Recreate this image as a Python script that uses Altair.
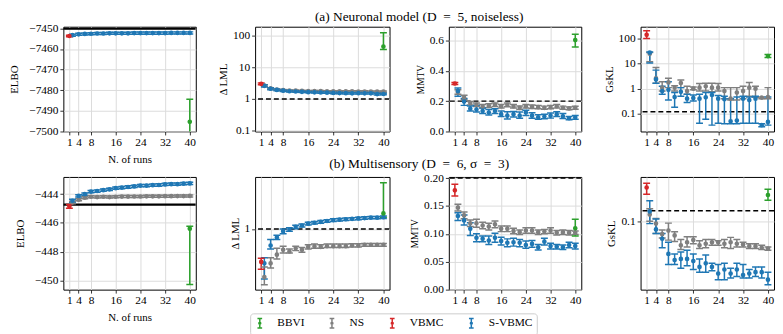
import altair as alt
import pandas as pd

# ---------------- data ----------------
RUNS = [2, 4, 6, 8, 10, 12, 14, 16, 18, 20, 22, 24, 26, 28, 30, 32, 34, 36, 38, 40]
X_VBMC = 1
X_BBVI = 40
X_TICKS = [1, 4, 8, 16, 24, 32, 40]
X_DOMAIN = [-0.95, 41.95]

METHODS = ["BBVI", "NS", "VBMC", "S-VBMC"]
COLORS = ["#2ca02c", "#7f7f7f", "#d62728", "#1f77b4"]

# (a) Neuronal model -- ELBO
A_ELBO_TRUE = -7450.2
A_ELBO_VBMC = [-7453.7, -7454.1, -7453.3]          # median, low, high
A_ELBO_BBVI = [-7495.3, -7512.0, -7484.4]
A_ELBO_SV = [-7453.3, -7452.9, -7452.7, -7452.6, -7452.5, -7452.5, -7452.4, -7452.4, -7452.4, -7452.4,
             -7452.3, -7452.3, -7452.3, -7452.3, -7452.3, -7452.3, -7452.2, -7452.2, -7452.2, -7452.2]
A_ELBO_SV_LO = [-7453.8, -7453.4, -7453.2, -7453.1, -7453.0, -7453.0, -7452.9, -7452.9, -7452.9, -7452.9,
                -7452.8, -7452.8, -7452.8, -7452.8, -7452.8, -7452.8, -7452.7, -7452.7, -7452.7, -7452.7]
A_ELBO_SV_HI = [-7452.8, -7452.4, -7452.2, -7452.1, -7452.0, -7452.0, -7451.9, -7451.9, -7451.9, -7451.9,
                -7451.8, -7451.8, -7451.8, -7451.8, -7451.8, -7451.8, -7451.7, -7451.7, -7451.7, -7451.7]

# (a) -- delta LML
A_LML_REF = 1.0
A_LML_VBMC = [3.0, 2.8, 3.2]
A_LML_BBVI = [45.0, 36.0, 122.0]
A_LML_SV = [2.6, 2.1, 1.92, 1.82, 1.75, 1.72, 1.68, 1.64, 1.62, 1.6, 1.58, 1.55, 1.53, 1.52, 1.5, 1.52, 1.5, 1.5, 1.42, 1.43]
A_LML_SV_LO = [2.4, 1.95, 1.8, 1.72, 1.66, 1.63, 1.6, 1.56, 1.54, 1.52, 1.5, 1.47, 1.45, 1.44, 1.42, 1.44, 1.42, 1.42, 1.34, 1.35]
A_LML_SV_HI = [2.8, 2.25, 2.05, 1.93, 1.85, 1.81, 1.77, 1.73, 1.71, 1.69, 1.67, 1.64, 1.62, 1.61, 1.59, 1.61, 1.59, 1.59, 1.51, 1.52]
A_LML_NS = [2.65, 2.15, 1.98, 1.9, 1.85, 1.82, 1.8, 1.78, 1.77, 1.76, 1.75, 1.74, 1.74, 1.73, 1.73, 1.72, 1.72, 1.71, 1.7, 1.7]
A_LML_NS_LO = [2.5, 2.05, 1.9, 1.82, 1.77, 1.75, 1.73, 1.71, 1.7, 1.69, 1.68, 1.67, 1.67, 1.66, 1.66, 1.65, 1.65, 1.64, 1.63, 1.63]
A_LML_NS_HI = [2.8, 2.25, 2.06, 1.98, 1.93, 1.9, 1.88, 1.86, 1.85, 1.84, 1.83, 1.82, 1.82, 1.81, 1.81, 1.8, 1.8, 1.79, 1.78, 1.78]

# (a) -- MMTV
A_MMTV_REF = 0.2
A_MMTV_VBMC = [0.316, 0.309, 0.323]
A_MMTV_BBVI = [0.602, 0.556, 0.640]
A_MMTV_SV = [0.266, 0.197, 0.15, 0.145, 0.135, 0.125, 0.135, 0.114, 0.104, 0.114,
             0.104, 0.125, 0.104, 0.093, 0.098, 0.104, 0.114, 0.100, 0.087, 0.093]
A_MMTV_SV_LO = [0.232, 0.172, 0.135, 0.128, 0.118, 0.108, 0.118, 0.098, 0.083, 0.096,
                0.087, 0.105, 0.087, 0.080, 0.084, 0.088, 0.098, 0.085, 0.078, 0.080]
A_MMTV_SV_HI = [0.286, 0.218, 0.168, 0.172, 0.155, 0.145, 0.150, 0.135, 0.130, 0.132,
                0.128, 0.140, 0.123, 0.110, 0.114, 0.122, 0.130, 0.118, 0.098, 0.105]
A_MMTV_NS = [0.26, 0.224, 0.187, 0.176, 0.166, 0.17, 0.176, 0.166, 0.176, 0.166,
             0.156, 0.166, 0.162, 0.160, 0.156, 0.160, 0.166, 0.156, 0.152, 0.156]
A_MMTV_NS_LO = [0.245, 0.21, 0.175, 0.165, 0.155, 0.158, 0.164, 0.155, 0.163, 0.154,
                0.145, 0.154, 0.151, 0.149, 0.146, 0.149, 0.155, 0.146, 0.143, 0.147]
A_MMTV_NS_HI = [0.275, 0.238, 0.198, 0.188, 0.178, 0.182, 0.188, 0.178, 0.188, 0.178,
                0.168, 0.178, 0.174, 0.172, 0.167, 0.172, 0.178, 0.167, 0.162, 0.166]

# (a) -- GsKL
A_GSKL_REF = 0.12
A_GSKL_VBMC = [141.0, 100.0, 205.0]
A_GSKL_BBVI = [20.0, 17.5, 23.0]
A_GSKL_SV = [27.6, 2.35, 0.8, 0.9, 0.46, 0.75, 0.4, 0.42, 0.4, 0.45,
             0.56, 0.4, 0.38, 0.05, 0.053, 0.4, 0.35, 0.4, 0.035, 0.047]
A_GSKL_SV_LO = [10.7, 1.66, 0.6, 0.35, 0.18, 0.5, 0.28, 0.32, 0.042, 0.06,
                0.035, 0.042, 0.04, 0.04, 0.04, 0.042, 0.042, 0.042, 0.03, 0.035]
A_GSKL_SV_HI = [29.0, 5.5, 1.25, 1.9, 0.7, 1.1, 0.6, 0.56, 0.6, 0.7,
                0.7, 0.53, 0.5, 0.4, 0.46, 0.5, 0.46, 0.5, 0.04, 0.46]
A_GSKL_NS = [25.0, 2.6, 1.1, 1.78, 1.1, 1.67, 0.8, 1.0, 1.1, 1.25,
             1.1, 1.1, 0.8, 0.4, 0.7, 0.8, 1.1, 1.0, 0.44, 0.46]
A_GSKL_NS_LO = [12.0, 1.66, 0.8, 1.1, 0.8, 1.1, 0.6, 0.9, 0.8, 0.8,
                0.75, 0.8, 0.4, 0.35, 0.35, 0.4, 0.5, 0.45, 0.4, 0.4]
A_GSKL_NS_HI = [28.0, 7.0, 1.9, 2.6, 1.3, 2.2, 1.25, 1.17, 1.6, 1.66,
                1.66, 1.6, 1.1, 1.1, 1.1, 1.25, 1.77, 1.25, 0.46, 1.1]

# (b) Multisensory -- ELBO
B_ELBO_TRUE = -444.73
B_ELBO_VBMC = [-444.85, -444.98, -444.72]
B_ELBO_BBVI = [-446.4, -450.3, -446.24]
B_ELBO_SV = [-444.46, -444.12, -444.0, -443.82, -443.78, -443.72, -443.66, -443.58, -443.54, -443.5,
             -443.46, -443.4, -443.4, -443.37, -443.36, -443.32, -443.3, -443.3, -443.27, -443.25]
B_ELBO_SV_LO = [-444.56, -444.2, -444.08, -443.9, -443.86, -443.8, -443.74, -443.66, -443.62, -443.58,
                -443.54, -443.48, -443.48, -443.45, -443.44, -443.4, -443.38, -443.38, -443.35, -443.33]
B_ELBO_SV_HI = [-444.36, -444.04, -443.92, -443.74, -443.7, -443.64, -443.58, -443.5, -443.46, -443.42,
                -443.38, -443.32, -443.32, -443.29, -443.28, -443.24, -443.22, -443.22, -443.19, -443.17]
B_ELBO_NS = [-444.58, -444.38, -444.25, -444.18, -444.2, -444.18, -444.2, -444.18, -444.17, -444.17,
             -444.16, -444.16, -444.15, -444.15, -444.15, -444.14, -444.14, -444.13, -444.13, -444.12]
B_ELBO_NS_LO = [-444.66, -444.45, -444.32, -444.25, -444.27, -444.25, -444.27, -444.25, -444.24, -444.24,
                -444.23, -444.23, -444.22, -444.22, -444.22, -444.21, -444.21, -444.2, -444.2, -444.19]
B_ELBO_NS_HI = [-444.5, -444.31, -444.18, -444.11, -444.13, -444.11, -444.13, -444.11, -444.1, -444.1,
                -444.09, -444.09, -444.08, -444.08, -444.08, -444.07, -444.07, -444.06, -444.06, -444.05]

# (b) -- delta LML
B_LML_REF = 1.0
B_LML_VBMC = [0.52, 0.45, 0.56]
B_LML_BBVI = [1.36, 1.26, 2.5]
B_LML_SV = [0.505, 0.72, 0.845, 0.955, 0.99, 1.04, 1.07, 1.11, 1.13, 1.15,
            1.17, 1.19, 1.2, 1.21, 1.22, 1.23, 1.24, 1.25, 1.25, 1.26]
B_LML_SV_LO = [0.37, 0.67, 0.81, 0.91, 0.955, 1.005, 1.04, 1.08, 1.1, 1.12,
               1.14, 1.16, 1.17, 1.18, 1.19, 1.2, 1.21, 1.22, 1.22, 1.23]
B_LML_SV_HI = [0.565, 0.81, 0.88, 1.0, 1.025, 1.075, 1.1, 1.14, 1.16, 1.18,
               1.2, 1.22, 1.23, 1.24, 1.25, 1.26, 1.27, 1.28, 1.28, 1.29]
B_LML_NS = [0.385, 0.505, 0.6, 0.66, 0.64, 0.68, 0.66, 0.7, 0.71, 0.7,
            0.71, 0.71, 0.71, 0.71, 0.72, 0.72, 0.73, 0.73, 0.73, 0.73]
B_LML_NS_LO = [0.33, 0.46, 0.55, 0.62, 0.62, 0.65, 0.63, 0.67, 0.68, 0.68,
               0.69, 0.69, 0.69, 0.69, 0.7, 0.7, 0.71, 0.71, 0.71, 0.71]
B_LML_NS_HI = [0.47, 0.565, 0.68, 0.71, 0.67, 0.71, 0.69, 0.73, 0.74, 0.73,
               0.74, 0.74, 0.74, 0.74, 0.745, 0.745, 0.75, 0.75, 0.75, 0.75]

# (b) -- MMTV
B_MMTV_REF = 0.2
B_MMTV_VBMC = [0.178, 0.168, 0.189]
B_MMTV_BBVI = [0.110, 0.096, 0.126]
B_MMTV_SV = [0.132, 0.124, 0.109, 0.093, 0.091, 0.088, 0.093, 0.087, 0.084, 0.085,
             0.084, 0.080, 0.082, 0.076, 0.086, 0.078, 0.077, 0.076, 0.080, 0.078]
B_MMTV_SV_LO = [0.124, 0.116, 0.097, 0.086, 0.086, 0.081, 0.085, 0.080, 0.077, 0.078,
                0.077, 0.074, 0.076, 0.071, 0.080, 0.073, 0.073, 0.072, 0.075, 0.073]
B_MMTV_SV_HI = [0.138, 0.134, 0.120, 0.100, 0.096, 0.096, 0.101, 0.094, 0.091, 0.092,
                0.090, 0.087, 0.088, 0.081, 0.092, 0.083, 0.081, 0.080, 0.085, 0.083]
B_MMTV_NS = [0.147, 0.133, 0.119, 0.119, 0.115, 0.113, 0.117, 0.109, 0.109, 0.105,
             0.103, 0.106, 0.106, 0.103, 0.104, 0.106, 0.102, 0.103, 0.102, 0.102]
B_MMTV_NS_LO = [0.141, 0.127, 0.113, 0.112, 0.109, 0.107, 0.111, 0.104, 0.104, 0.100,
                0.099, 0.101, 0.101, 0.099, 0.100, 0.101, 0.098, 0.099, 0.098, 0.099]
B_MMTV_NS_HI = [0.153, 0.139, 0.125, 0.126, 0.121, 0.119, 0.123, 0.114, 0.114, 0.110,
                0.107, 0.111, 0.111, 0.107, 0.108, 0.111, 0.106, 0.107, 0.106, 0.105]

# (b) -- GsKL
B_GSKL_REF = 0.125
B_GSKL_VBMC = [0.204, 0.177, 0.223]
B_GSKL_BBVI = [0.174, 0.156, 0.197]
B_GSKL_SV = [0.123, 0.084, 0.069, 0.050, 0.044, 0.045, 0.045, 0.043, 0.038, 0.041,
             0.038, 0.033, 0.036, 0.033, 0.036, 0.032, 0.033, 0.034, 0.034, 0.029]
B_GSKL_SV_LO = [0.095, 0.077, 0.057, 0.040, 0.040, 0.037, 0.039, 0.036, 0.034, 0.034,
                0.035, 0.029, 0.029, 0.030, 0.031, 0.030, 0.030, 0.031, 0.030, 0.026]
B_GSKL_SV_HI = [0.154, 0.105, 0.077, 0.064, 0.050, 0.052, 0.054, 0.050, 0.045, 0.049,
                0.041, 0.040, 0.041, 0.037, 0.041, 0.040, 0.036, 0.038, 0.038, 0.034]
B_GSKL_NS = [0.115, 0.095, 0.076, 0.082, 0.074, 0.060, 0.064, 0.067, 0.060, 0.062,
             0.064, 0.064, 0.062, 0.064, 0.062, 0.061, 0.059, 0.059, 0.057, 0.056]
B_GSKL_NS_LO = [0.100, 0.077, 0.070, 0.067, 0.065, 0.055, 0.058, 0.062, 0.056, 0.057,
                0.060, 0.060, 0.057, 0.056, 0.058, 0.058, 0.056, 0.056, 0.055, 0.054]
B_GSKL_NS_HI = [0.130, 0.106, 0.083, 0.096, 0.080, 0.068, 0.072, 0.072, 0.066, 0.068,
                0.068, 0.066, 0.068, 0.071, 0.068, 0.064, 0.062, 0.062, 0.060, 0.058]

TITLE_A = "(a) Neuronal model (D\u2002=\u20025, noiseless)"
TITLE_B = "(b) Multisensory (D\u2002=\u20026, \u03c3\u2002=\u20023)"

# ---------------- styling ----------------
FONT = "Liberation Serif"
LEGEND_PATH = ("M-0.5,-1H0.5M0,-1V1M-0.5,1H0.5"
               "M0.2,0A0.2,0.2,0,1,1,-0.2,0A0.2,0.2,0,1,1,0.2,0Z")

LEGEND = alt.Legend(
    title=None, orient="none", legendX=189, legendY=290, direction="horizontal",
    columns=4, symbolType=LEGEND_PATH, symbolSize=90, symbolStrokeWidth=1.5,
    labelFont=FONT, labelFontSize=11.5, labelColor="black", labelOffset=12,
    columnPadding=22, padding=4, strokeColor="#cccccc", cornerRadius=3,
    fillColor="white", symbolOpacity=1,
)


def build_frame(vbmc, bbvi, sv, sv_lo, sv_hi, ns=None, ns_lo=None, ns_hi=None):
    rows = []
    if ns is not None:
        for x, m, lo, hi in zip(RUNS, ns, ns_lo, ns_hi):
            rows.append({"method": "NS", "x": x, "y": m, "lo": lo, "hi": hi})
    for x, m, lo, hi in zip(RUNS, sv, sv_lo, sv_hi):
        rows.append({"method": "S-VBMC", "x": x, "y": m, "lo": lo, "hi": hi})
    rows.append({"method": "VBMC", "x": X_VBMC, "y": vbmc[0], "lo": vbmc[1], "hi": vbmc[2]})
    rows.append({"method": "BBVI", "x": X_BBVI, "y": bbvi[0], "lo": bbvi[1], "hi": bbvi[2]})
    return pd.DataFrame(rows)


def panel(df, ref, ref_style, ytitle, yscale, yvalues, yformat, width, height,
          xtitle=None, title=None, title_offset=3, ytitle_size=11, ytitle_pad=4):
    xenc = alt.X("x:Q", scale=alt.Scale(domain=X_DOMAIN, nice=False, zero=False),
                 axis=alt.Axis(values=X_TICKS, title=xtitle, format="d", titlePadding=5))
    yaxis = alt.Axis(values=yvalues, format=yformat, title=ytitle,
                     titleFontSize=ytitle_size, titlePadding=ytitle_pad)
    cscale = alt.Scale(domain=METHODS, range=COLORS)
    col = alt.Color("method:N", scale=cscale, legend=LEGEND)
    base = alt.Chart(df)
    rules = base.mark_rule(strokeWidth=1.5, clip=True).encode(
        x=xenc, y=alt.Y("lo:Q", scale=yscale, axis=yaxis), y2="hi:Q", color=col)
    cap_lo = base.mark_tick(orient="horizontal", size=7, thickness=1.5, clip=True, opacity=1).encode(
        x=xenc, y=alt.Y("lo:Q", scale=yscale, axis=yaxis), color=col)
    cap_hi = base.mark_tick(orient="horizontal", size=7, thickness=1.5, clip=True, opacity=1).encode(
        x=xenc, y=alt.Y("hi:Q", scale=yscale, axis=yaxis), color=col)
    pts = base.mark_point(filled=False, size=5, strokeWidth=2.5, opacity=1, clip=True).encode(
        x=xenc, y=alt.Y("y:Q", scale=yscale, axis=yaxis), color=col)
    refdf = pd.DataFrame({"v": [ref]})
    if ref_style == "solid":
        refmark = alt.Chart(refdf).mark_rule(color="black", strokeWidth=2.2, clip=True)
    else:
        refmark = alt.Chart(refdf).mark_rule(color="black", strokeWidth=1.5, strokeDash=[5, 3], clip=True)
    refl = refmark.encode(y=alt.Y("v:Q", scale=yscale, axis=yaxis))
    layer = alt.layer(refl, rules, cap_lo, cap_hi, pts).properties(width=width, height=height)
    if title is not None:
        layer = layer.properties(title=alt.TitleParams(
            title, anchor="middle", frame="group", dx=width / 2 + 30, offset=title_offset,
            font=FONT, fontSize=13.5, fontWeight="normal", color="black"))
    return layer


W = [134, 136, 134, 135]
H1 = 106
H2 = 114

a_elbo = panel(build_frame(A_ELBO_VBMC, A_ELBO_BBVI, A_ELBO_SV, A_ELBO_SV_LO, A_ELBO_SV_HI),
               A_ELBO_TRUE, "solid", "ELBO",
               alt.Scale(domain=[-7500, -7449.2], nice=False, zero=False),
               [-7500, -7490, -7480, -7470, -7460, -7450], "d", W[0], H1, xtitle="N. of runs",
               ytitle_pad=9)
a_lml = panel(build_frame(A_LML_VBMC, A_LML_BBVI, A_LML_SV, A_LML_SV_LO, A_LML_SV_HI,
                          A_LML_NS, A_LML_NS_LO, A_LML_NS_HI),
              A_LML_REF, "dash", "Δ LML",
              alt.Scale(type="log", domain=[0.094, 190], nice=False),
              [0.1, 1, 10, 100], "~g", W[1], H1, title=TITLE_A, title_offset=3)
a_mmtv = panel(build_frame(A_MMTV_VBMC, A_MMTV_BBVI, A_MMTV_SV, A_MMTV_SV_LO, A_MMTV_SV_HI,
                           A_MMTV_NS, A_MMTV_NS_LO, A_MMTV_NS_HI),
               A_MMTV_REF, "dash", "MMTV",
               alt.Scale(domain=[0, 0.69], nice=False, zero=False),
               [0.0, 0.2, 0.4, 0.6], ".1f", W[2], H1, ytitle_size=9.5)
a_gskl = panel(build_frame(A_GSKL_VBMC, A_GSKL_BBVI, A_GSKL_SV, A_GSKL_SV_LO, A_GSKL_SV_HI,
                           A_GSKL_NS, A_GSKL_NS_LO, A_GSKL_NS_HI),
               A_GSKL_REF, "dash", "GsKL",
               alt.Scale(type="log", domain=[0.0195, 298], nice=False),
               [0.1, 1, 10, 100], "~g", W[3], H1)

b_elbo = panel(build_frame(B_ELBO_VBMC, B_ELBO_BBVI, B_ELBO_SV, B_ELBO_SV_LO, B_ELBO_SV_HI,
                           B_ELBO_NS, B_ELBO_NS_LO, B_ELBO_NS_HI),
               B_ELBO_TRUE, "solid", "ELBO",
               alt.Scale(domain=[-450.65, -442.8], nice=False, zero=False),
               [-450, -448, -446, -444], "d", W[0], H2, xtitle="N. of runs", ytitle_pad=9)
b_lml = panel(build_frame(B_LML_VBMC, B_LML_BBVI, B_LML_SV, B_LML_SV_LO, B_LML_SV_HI,
                          B_LML_NS, B_LML_NS_LO, B_LML_NS_HI),
              B_LML_REF, "dash", "Δ LML",
              alt.Scale(type="log", domain=[0.3, 2.8], nice=False),
              [1], "~g", W[1], H2, title=TITLE_B, title_offset=7)
b_mmtv = panel(build_frame(B_MMTV_VBMC, B_MMTV_BBVI, B_MMTV_SV, B_MMTV_SV_LO, B_MMTV_SV_HI,
                           B_MMTV_NS, B_MMTV_NS_LO, B_MMTV_NS_HI),
               B_MMTV_REF, "dash", "MMTV",
               alt.Scale(domain=[0, 0.202], nice=False, zero=False),
               [0.0, 0.05, 0.10, 0.15, 0.20], ".2f", W[2], H2, ytitle_size=9.5)
b_gskl = panel(build_frame(B_GSKL_VBMC, B_GSKL_BBVI, B_GSKL_SV, B_GSKL_SV_LO, B_GSKL_SV_HI,
                           B_GSKL_NS, B_GSKL_NS_LO, B_GSKL_NS_HI),
               B_GSKL_REF, "dash", "GsKL",
               alt.Scale(type="log", domain=[0.0235, 0.255], nice=False),
               [0.1], "~g", W[3], H2)

chart = alt.concat(
    a_elbo, a_lml, a_mmtv, a_gskl,
    b_elbo, b_lml, b_mmtv, b_gskl,
    columns=4, spacing={"row": 46, "column": 60}, bounds="flush",
).resolve_scale(
    color="shared"
).properties(
    padding={"left": 0, "top": 0, "right": 0, "bottom": 0},
    background="white",
).configure_view(
    stroke="black", strokeWidth=1,
).configure_axis(
    labelFont=FONT, labelFontSize=11.5, labelColor="black",
    titleFont=FONT, titleFontSize=11, titleFontWeight="normal", titleColor="black",
    grid=True, gridColor="#dcdcdc", gridWidth=1,
    domain=False, tickColor="black", tickSize=3.5, tickWidth=0.8, labelPadding=2,
)

chart.save("out.html", embed_options={"renderer": "svg", "actions": False})
